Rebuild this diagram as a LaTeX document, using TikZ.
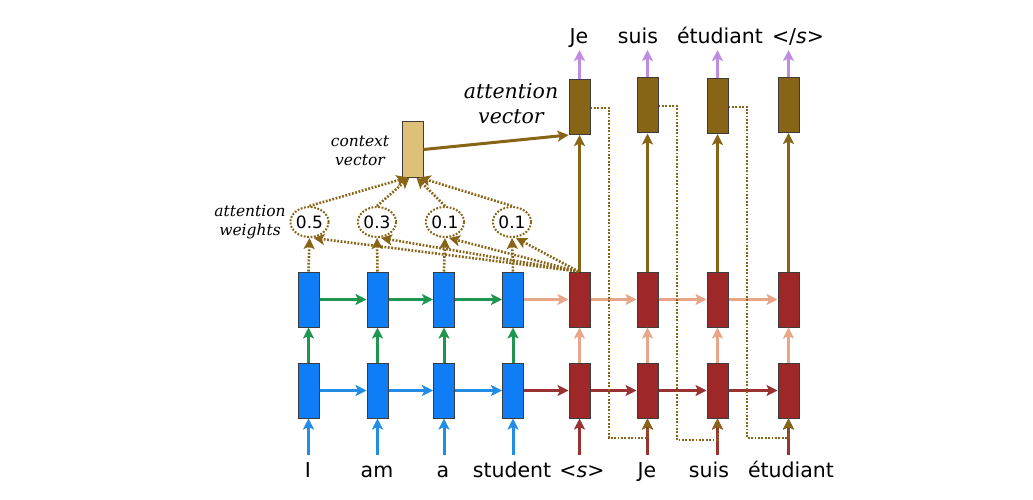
\documentclass[tikz,border=0pt]{standalone}
\usepackage{fontspec}
\setmainfont{DejaVu Sans}
\newfontfamily\lblfont{DejaVu Serif}
\usetikzlibrary{arrows.meta,shapes.geometric,calc}
\definecolor{encblue}{RGB}{15,125,245}
\definecolor{encarrow}{RGB}{35,140,230}
\definecolor{grn}{RGB}{30,150,80}
\definecolor{decred}{RGB}{158,40,40}
\definecolor{decarrow}{RGB}{155,50,50}
\definecolor{salmon}{RGB}{232,165,135}
\definecolor{brn}{RGB}{135,100,22}
\definecolor{tan}{RGB}{222,192,122}
\definecolor{purp}{RGB}{192,140,225}
\definecolor{edge}{RGB}{60,60,60}
\tikzset{
  cell/.style={draw=edge,line width=1pt,minimum width=21pt,minimum height=55pt,inner sep=0pt},
  enc/.style={cell,fill=encblue},
  dec/.style={cell,fill=decred},
  att/.style={cell,fill=brn},
  ctx/.style={cell,fill=tan},
  tip/.style={-{Stealth[length=11pt,width=11pt,inset=2.5pt]}},
  arr/.style={line width=3pt,tip},
  blueA/.style={arr,draw=encarrow},
  greenA/.style={arr,draw=grn},
  redA/.style={arr,draw=decarrow},
  salA/.style={arr,draw=salmon},
  brnA/.style={arr,draw=brn},
  purA/.style={arr,draw=purp},
  dotA/.style={tip,draw=brn,line width=2.6pt,dash pattern=on 1.8pt off 1.6pt},
  feed/.style={tip,draw=brn,line width=2pt,dash pattern=on 1.8pt off 1.6pt},
  wt/.style={ellipse,draw=brn,line width=2pt,dash pattern=on 1.8pt off 1.6pt,minimum width=35pt,minimum height=30pt,inner sep=0pt,font=\fontsize{17}{19}\selectfont},
  word/.style={anchor=base,inner sep=0pt,font=\fontsize{20.5}{24}\selectfont},
  small/.style={align=center,inner sep=0pt,font=\lblfont\itshape\fontsize{15.5}{19}\selectfont},
  big/.style={align=center,inner sep=0pt,font=\lblfont\itshape\fontsize{20.5}{25}\selectfont}
}
\begin{document}
\begin{tikzpicture}[x=1pt,y=-1pt]
\useasboundingbox (0,0) rectangle (1033,500);
% encoder
\node[enc] (e1) at (308.5,390.5) {};
\node[enc] (e2) at (377.5,390.5) {};
\node[enc] (e3) at (444,390.5) {};
\node[enc] (e4) at (513,390.5) {};
\node[enc] (u1) at (308.5,299.5) {};
\node[enc] (u2) at (377.5,299.5) {};
\node[enc] (u3) at (444,299.5) {};
\node[enc] (u4) at (513,299.5) {};
% decoder
\node[dec] (d1) at (579.5,390.5) {};
\node[dec] (d2) at (647.5,390.5) {};
\node[dec] (d3) at (717.5,390.5) {};
\node[dec] (d4) at (788.5,390.5) {};
\node[dec] (v1) at (579.5,299.5) {};
\node[dec] (v2) at (647.5,299.5) {};
\node[dec] (v3) at (717.5,299.5) {};
\node[dec] (v4) at (788.5,299.5) {};
% attention vectors
\node[att] (a1) at (579.5,107) {};
\node[att] (a2) at (647.5,105.5) {};
\node[att] (a3) at (717.5,106) {};
\node[att] (a4) at (788.5,105) {};
% context
\node[ctx] (c) at (412.5,149.5) {};
% weights
\node[wt] (w1) at (309.5,222) {0.5};
\node[wt] (w2) at (377,222) {0.3};
\node[wt] (w3) at (445,222) {0.1};
\node[wt] (w4) at (512,222) {0.1};
% labels
\node[small] (lc) at (360,151) {context\\vector};
\node[small] (lw) at (250,222) {attention\\weights};
\node[big] (la) at (511,104) {attention\\vector};
% bottom words
\node[word] (i1) at (308,477) {I};
\node[word] (i2) at (377,477) {am};
\node[word] (i3) at (443,477) {a};
\node[word] (i4) at (512,477) {student};
\node[word] (i5) at (582,477) {<\textit{s}>};
\node[word] (i6) at (647,477) {Je};
\node[word] (i7) at (709,477) {suis};
\node[word] (i8) at (791,477) {étudiant};
% top words
\node[word] (o1) at (579,44) {Je};
\node[word] (o2) at (638,44) {suis};
\node[word] (o3) at (720,44) {étudiant};
\node[word] (o4) at (798,44) {</\textit{s}>};
% input coordinates
\foreach \n/\x in {1/308.5,2/377.5,3/444,4/513,5/579.5,6/647.5,7/717.5,8/788.5}
  \coordinate (in\n) at (\x,455);
\foreach \n/\x in {1/579.5,2/647.5,3/717.5,4/788.5}
  \coordinate (out\n) at (\x,50);
% input arrows
\foreach \n/\b in {1/e1,2/e2,3/e3,4/e4} \draw[blueA] (in\n) -- (\b.south);
\foreach \n/\b in {5/d1,6/d2,7/d3,8/d4} \draw[redA] (in\n) -- (\b.south);
% encoder
\draw[blueA] (e1.east) -- (e2.west);
\draw[blueA] (e2.east) -- (e3.west);
\draw[blueA] (e3.east) -- (e4.west);
\draw[greenA] (u1.east) -- (u2.west);
\draw[greenA] (u2.east) -- (u3.west);
\draw[greenA] (u3.east) -- (u4.west);
\foreach \a/\b in {e1/u1,e2/u2,e3/u3,e4/u4} \draw[greenA] (\a.north) -- (\b.south);
% decoder
\draw[redA] (e4.east) -- (d1.west);
\draw[redA] (d1.east) -- (d2.west);
\draw[redA] (d2.east) -- (d3.west);
\draw[redA] (d3.east) -- (d4.west);
\draw[salA] (u4.east) -- (v1.west);
\draw[salA] (v1.east) -- (v2.west);
\draw[salA] (v2.east) -- (v3.west);
\draw[salA] (v3.east) -- (v4.west);
\foreach \a/\b in {d1/v1,d2/v2,d3/v3,d4/v4} \draw[salA] (\a.north) -- (\b.south);
% to attention vectors
\foreach \a/\b in {v1/a1,v2/a2,v3/a3,v4/a4} \draw[brnA] (\a.north) -- (\b.south);
\foreach \n/\b in {1/a1,2/a2,3/a3,4/a4} \draw[purA] (\b.north) -- (out\n);
% attention
\foreach \a/\b in {u1/w1,u2/w2,u3/w3,u4/w4} \draw[dotA] (\a.north) -- (\b.south);
\foreach \b in {w1,w2,w3,w4} \draw[dotA] ([xshift=-1pt]v1.north) -- ([xshift=4pt]\b.south);
\draw[dotA] (w1.north) -- ([xshift=-5pt]c.south);
\draw[dotA] (w2.north) -- ([xshift=-3pt]c.south);
\draw[dotA] (w3.north) -- ([xshift=4pt]c.south);
\draw[dotA] (w4.north) -- ([xshift=7pt]c.south);
\draw[brnA] (c.east) -- (a1.south west);
% feed
\coordinate (f1) at (609,438);
\coordinate (f2) at (677,440);
\coordinate (f3) at (747,438);
\draw[feed] ([yshift=-1pt]a1.east) -| (f1) -- (f1 -| d2) -- (d2.south);
\draw[feed] ([yshift=-1pt]a2.east) -| (f2) -- (f2 -| d3) -- (d3.south);
\draw[feed] ([yshift=-1pt]a3.east) -| (f3) -- (f3 -| d4) -- (d4.south);
\end{tikzpicture}
\end{document}
